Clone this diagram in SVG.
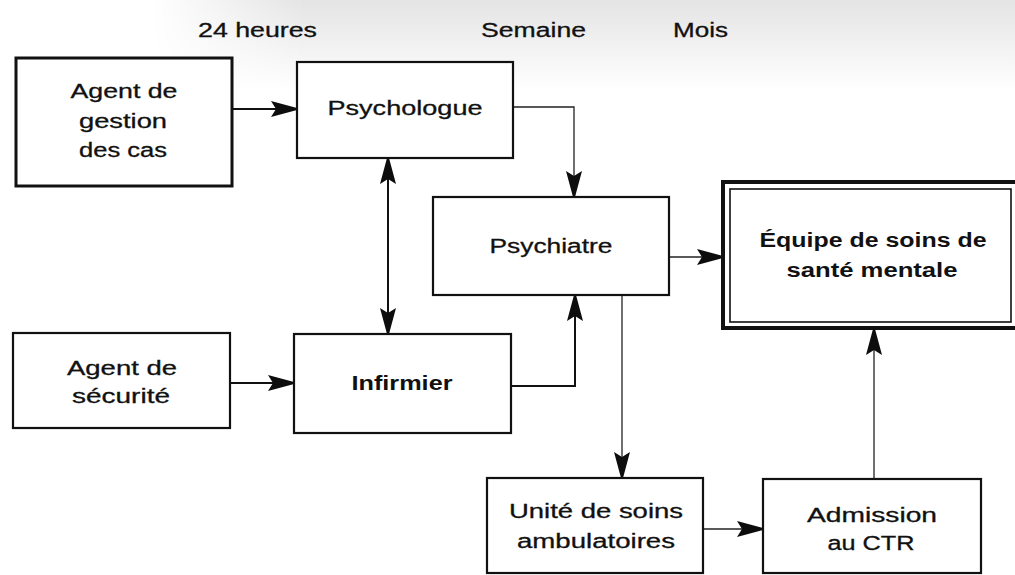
<svg xmlns="http://www.w3.org/2000/svg" width="1015" height="575" viewBox="0 0 1015 575">
  <defs>
    <linearGradient id="topShade" x1="0" y1="0" x2="0" y2="1">
      <stop offset="0" stop-color="#e4e4e4"/>
      <stop offset="0.6" stop-color="#f4f4f4"/>
      <stop offset="1" stop-color="#ffffff"/>
    </linearGradient>
    <linearGradient id="fadeX" x1="0" y1="0" x2="1" y2="0">
      <stop offset="0" stop-color="#000"/>
      <stop offset="0.15" stop-color="#000"/>
      <stop offset="0.3" stop-color="#fff"/>
      <stop offset="1" stop-color="#fff"/>
    </linearGradient>
    <mask id="shadeMask">
      <rect x="0" y="0" width="1015" height="90" fill="url(#fadeX)"/>
    </mask>
    <marker id="arr" markerUnits="userSpaceOnUse" markerWidth="30" markerHeight="18" refX="26" refY="8" orient="auto-start-reverse" viewBox="0 0 30 18">
      <path d="M0,0 L26,7 L26,9 L0,16 L5,8 Z" fill="#0d0d0d"/>
    </marker>
  </defs>
  <style>
    .box { fill: #ffffff; stroke: #111; stroke-width: 2.2; }
    .thick { stroke-width: 3; }
    .outer { fill: #ffffff; stroke: #111; stroke-width: 4; }
    .inner { fill: none; stroke: #111; stroke-width: 1.6; }
    .lbl { font-family: "Liberation Sans", Arial, sans-serif; font-size: 20px; fill: #111; text-anchor: middle; stroke: #111; stroke-width: 0.3; }
    .hdr { font-family: "Liberation Sans", Arial, sans-serif; font-size: 20px; fill: #111; stroke: #111; stroke-width: 0.3; }
    .b { font-weight: bold; stroke-width: 0; }
    .c { fill: none; stroke: #111; stroke-width: 2; }
    .ct { fill: none; stroke: #222; stroke-width: 1.3; }
  </style>

  <rect x="0" y="0" width="1015" height="575" fill="#ffffff"/>
  <rect x="0" y="0" width="1015" height="90" fill="url(#topShade)" mask="url(#shadeMask)"/>

  <g id="headers">
    <text class="hdr" x="198" y="37" textLength="119" lengthAdjust="spacingAndGlyphs">24 heures</text>
    <text class="hdr" x="481" y="37" textLength="105" lengthAdjust="spacingAndGlyphs">Semaine</text>
    <text class="hdr" x="673" y="37" textLength="55" lengthAdjust="spacingAndGlyphs">Mois</text>
  </g>

  <g id="connectors">
    <path class="c" d="M232,109 H297" marker-end="url(#arr)"/>
    <path class="c" d="M388,158 V334" marker-start="url(#arr)" marker-end="url(#arr)"/>
    <path class="ct" d="M513,107 H574 V197" marker-end="url(#arr)"/>
    <path class="c" d="M230,383 H294" marker-end="url(#arr)"/>
    <path class="c" d="M511,386 H575 V295" marker-end="url(#arr)"/>
    <path class="ct" d="M669,257 H723" marker-end="url(#arr)"/>
    <path class="ct" d="M622,295 V478" marker-end="url(#arr)"/>
    <path class="ct" d="M703,529 H763" marker-end="url(#arr)"/>
    <path class="ct" d="M874,479 V329" marker-end="url(#arr)"/>
  </g>

  <g id="agent-gestion">
    <rect class="box thick" x="16" y="58" width="216" height="128"/>
    <text class="lbl" x="124" y="98" textLength="107" lengthAdjust="spacingAndGlyphs">Agent de</text>
    <text class="lbl" x="123" y="128" textLength="88" lengthAdjust="spacingAndGlyphs">gestion</text>
    <text class="lbl" x="123" y="157" textLength="88" lengthAdjust="spacingAndGlyphs">des cas</text>
  </g>

  <g id="psychologue">
    <rect class="box" x="297" y="62" width="216" height="96"/>
    <text class="lbl" x="405" y="115" textLength="155" lengthAdjust="spacingAndGlyphs">Psychologue</text>
  </g>

  <g id="psychiatre">
    <rect class="box" x="433" y="197" width="236" height="98"/>
    <text class="lbl" x="551" y="253" textLength="123" lengthAdjust="spacingAndGlyphs">Psychiatre</text>
  </g>

  <g id="equipe">
    <rect class="outer" x="723" y="182" width="296" height="146"/>
    <rect class="inner" x="730" y="189" width="281" height="133"/>
    <text class="lbl b" x="873" y="247" textLength="227" lengthAdjust="spacingAndGlyphs">Équipe de soins de</text>
    <text class="lbl b" x="872" y="277" textLength="171" lengthAdjust="spacingAndGlyphs">santé mentale</text>
  </g>

  <g id="agent-securite">
    <rect class="box" x="13" y="333" width="217" height="95"/>
    <text class="lbl" x="122" y="375" textLength="110" lengthAdjust="spacingAndGlyphs">Agent de</text>
    <text class="lbl" x="121" y="403" textLength="98" lengthAdjust="spacingAndGlyphs">sécurité</text>
  </g>

  <g id="infirmier">
    <rect class="box" x="294" y="334" width="217" height="99"/>
    <text class="lbl b" x="402" y="390" textLength="101" lengthAdjust="spacingAndGlyphs">Infirmier</text>
  </g>

  <g id="unite">
    <rect class="box" x="487" y="478" width="216" height="95"/>
    <text class="lbl" x="596" y="518" textLength="174" lengthAdjust="spacingAndGlyphs">Unité de soins</text>
    <text class="lbl" x="596" y="548" textLength="158" lengthAdjust="spacingAndGlyphs">ambulatoires</text>
  </g>

  <g id="admission">
    <rect class="box" x="763" y="479" width="218" height="94"/>
    <text class="lbl" x="872" y="522" textLength="130" lengthAdjust="spacingAndGlyphs">Admission</text>
    <text class="lbl" x="871" y="550" textLength="87" lengthAdjust="spacingAndGlyphs">au CTR</text>
  </g>
</svg>
